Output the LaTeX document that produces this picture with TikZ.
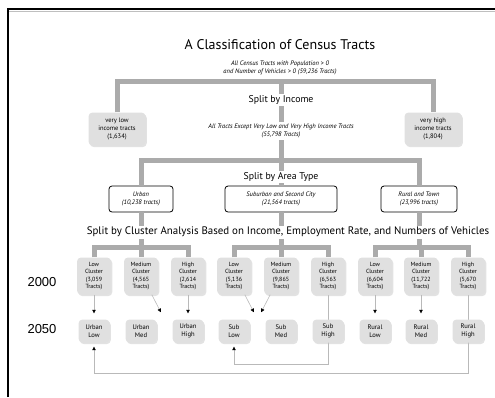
\documentclass[tikz,border=0pt]{standalone}
\usepackage{fontspec}
\setmainfont{PT Sans}
\newfontfamily\arialfont{Liberation Sans}
\usetikzlibrary{arrows.meta,shadows,calc}
\definecolor{barc}{HTML}{ABABAB}
\definecolor{boxc}{HTML}{E0E0E0}
\pgfdeclarelayer{bg}
\pgfsetlayers{bg,main}
\begin{document}
\begin{tikzpicture}[x=1pt,y=-1pt,
  bar/.style={line width=5pt, draw=barc},
  thinln/.style={draw=gray!55, line width=0.6pt},
  arr/.style={thinln, -{Triangle[length=3.5pt,width=3.5pt,color=black]}},
  gbox/.style={rounded corners=4pt, fill=boxc, drop shadow={shadow xshift=1.3pt,shadow yshift=-1.6pt,fill=gray!45}, align=center, inner sep=1pt},
  side/.style={gbox, minimum width=57pt, minimum height=33pt, font=\fontsize{6.5}{8}\selectfont},
  clus/.style={gbox, minimum width=34pt, minimum height=37pt, font=\fontsize{6}{7.6}\selectfont},
  fut/.style={gbox, minimum width=31pt, minimum height=23pt, font=\fontsize{6.6}{7.8}\selectfont},
  area/.style={draw=black, line width=0.8pt, rounded corners=3pt, fill=white, align=center, minimum height=26pt, font=\fontsize{6.5}{8}\selectfont\itshape},
  head/.style={fill=white, inner sep=1.5pt},
  small/.style={font=\fontsize{6.5}{8}\selectfont\itshape, align=center},
  year/.style={font=\arialfont\fontsize{13}{15}\selectfont}
]
\useasboundingbox (0,0) rectangle (495,397);
% frame
\draw[line width=2.5pt] (8,397) -- (8,9) -- (495,9);
\draw[gray!50, line width=1pt] (9.3,11.5) -- (495,11.5);

% boxes
\node[side] (vlow) at (117,129) {very low\\income tracts\\(1,634)};
\node[side] (vhigh) at (433,129) {very high\\income tracts\\(1,804)};

\node[area, minimum width=64pt] (urban) at (141,199) {Urban\\(10,238 tracts)};
\node[area, minimum width=112pt] (suburb) at (281,199) {Suburban and Second City\\(21,564 tracts)};
\node[area, minimum width=76pt] (rural) at (419,199) {Rural and Town\\(23,996 tracts)};

\node[clus] (c1) at (94,276) {Low\\Cluster\\(3,059\\Tracts)};
\node[clus] (c2) at (141,276) {Medium\\Cluster\\(4,565\\Tracts)};
\node[clus] (c3) at (188,276) {High\\Cluster\\(2,614\\Tracts)};
\node[clus] (c4) at (234,276) {Low\\Cluster\\(5,136\\Tracts)};
\node[clus] (c5) at (281,276) {Medium\\Cluster\\(9,865\\Tracts)};
\node[clus] (c6) at (328,276) {High\\Cluster\\(6,563\\Tracts)};
\node[clus] (c7) at (375,276) {Low\\Cluster\\(6,604\\Tracts)};
\node[clus] (c8) at (421,276) {Medium\\Cluster\\(11,722\\Tracts)};
\node[clus] (c9) at (468,276) {High\\Cluster\\(5,670\\Tracts)};

\node[fut] (f1) at (94,331) {Urban\\Low};
\node[fut] (f2) at (141,331) {Urban\\Med};
\node[fut] (f3) at (188,331) {Urban\\High};
\node[fut] (f4) at (234,331) {Sub\\Low};
\node[fut] (f5) at (281,331) {Sub\\Med};
\node[fut] (f6) at (328,331) {Sub\\High};
\node[fut] (f7) at (375,331) {Rural\\Low};
\node[fut] (f8) at (421,331) {Rural\\Med};
\node[fut] (f9) at (468,331) {Rural\\High};

% junctions
\coordinate (j1) at (281,81);
\coordinate (j2) at (281,160);
\coordinate (ju) at (141,247);
\coordinate (js) at (281,247);
\coordinate (jr) at (421,247);

% gray bars
\draw[bar] (vlow.north) |- (j1) -| (vhigh.north);
\draw[bar] (j1) -- (j2);
\draw[bar] (urban.north) |- (j2) -| (rural.north);
\draw[bar] (j2) -- (suburb.north);
\draw[bar] (c1.north) |- (ju) -| (c3.north);
\draw[bar] (urban.south) -- (ju) -- (c2.north);
\draw[bar] (c4.north) |- (js) -| (c6.north);
\draw[bar] (suburb.south) -- (js) -- (c5.north);
\draw[bar] (c7.north) |- (jr) -| (c9.north);
\draw[bar] (rural.south) -- (rural.south |- jr);
\draw[bar] (jr) -- (c8.north);

% texts
\node[font=\fontsize{14}{16}\selectfont] (title) at (280,45) {A Classification of Census Tracts};
\node[small] (all) at (280,68) {All Census Tracts with Population > 0\\and Number of Vehicles > 0 (59,236 Tracts)};
\node[head, font=\fontsize{9.8}{11}\selectfont] (inc) at (281,100) {Split by Income};
\node[head, small] (allx) at (281,131) {All Tracts Except Very Low and Very High Income Tracts\\(55,798 Tracts)};
\node[head, font=\fontsize{9.8}{11}\selectfont] (areahd) at (281,177) {Split by Area Type};
\node[head, font=\fontsize{10.9}{12}\selectfont] (clhd) at (288,232) {Split by Cluster Analysis Based on Income, Employment Rate, and Numbers of Vehicles};
\node[year] (y2000) at (42,282) {2000};
\node[year] (y2050) at (42,329) {2050};

% arrows
\draw[arr, shorten >=6pt] (c1) -- (f1);
\draw[arr, shorten >=6pt] (c3) -- (f3);
\draw[arr, shorten >=6pt] (c7) -- (f7);
\draw[arr, shorten >=6pt] (c8) -- (f8);
\draw[arr, shorten >=8pt] (c2.-60) -- ($(f2.north east)!0.5!(f3.north west)$);
\draw[arr, shorten >=8pt] (c4.-60) -- ($(f4.north east)!0.5!(f5.north west)$);
\draw[arr, shorten >=8pt] (c5.-120) -- ($(f4.north east)!0.5!(f5.north west)$);
\begin{pgfonlayer}{bg}
\draw[arr, shorten >=4pt] (c6.south) |- ($(f4.south)+(0,22)$) -- (f4.south);
\draw[arr, shorten >=4pt] (c9.south) |- ($(f1.south)+(0,31)$) -- (f1.south);
\end{pgfonlayer}
\end{tikzpicture}
\end{document}
